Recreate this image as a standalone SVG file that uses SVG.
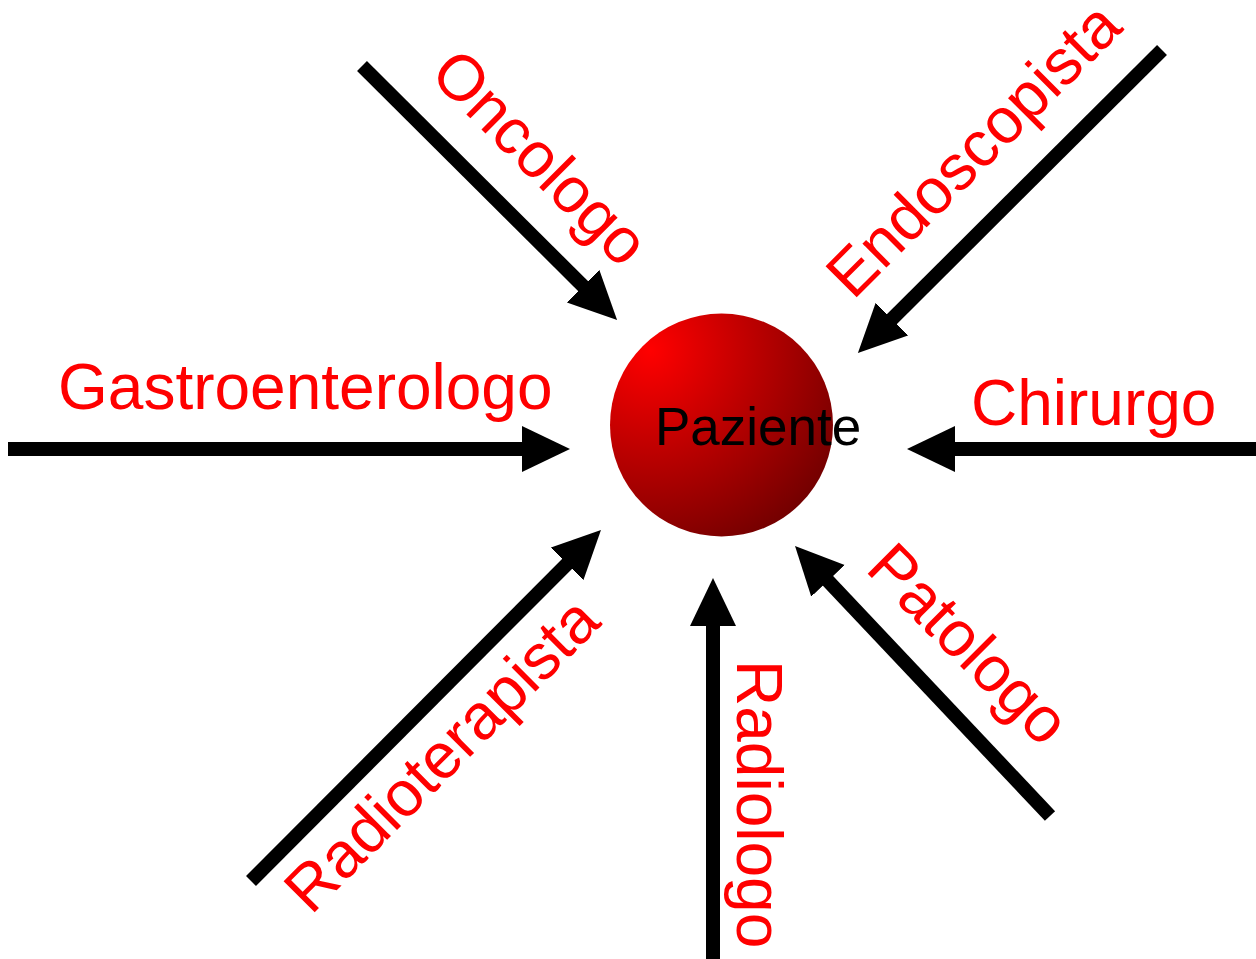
<svg xmlns="http://www.w3.org/2000/svg" width="1256" height="959" viewBox="0 0 1256 959">
  <style>
    .lbl { font-family: "Liberation Sans", Arial, sans-serif; font-size: 64px; fill: #ff0000; }
    .center-lbl { font-family: "Liberation Sans", Arial, sans-serif; font-size: 53px; fill: #000000; }
    .arrow { stroke: #000000; stroke-width: 14; fill: none; marker-end: url(#head); }
  </style>
  <defs>
    <marker id="head" markerUnits="userSpaceOnUse" markerWidth="50" markerHeight="48" refX="2" refY="23" orient="auto">
      <path d="M0,0 L48,23 L0,46 Z" fill="#000000"/>
    </marker>
    <radialGradient id="sphere" gradientUnits="userSpaceOnUse" cx="650" cy="350" r="220" fx="650" fy="350">
      <stop offset="0" stop-color="#ff0000"/>
      <stop offset="1" stop-color="#700000"/>
    </radialGradient>
  </defs>
  <rect width="1256" height="959" fill="#ffffff"/>

  <g id="connectors">
    <line class="arrow" x1="8" y1="449" x2="524" y2="449"/>
    <line class="arrow" x1="1262" y1="449" x2="953" y2="449"/>
    <line class="arrow" x1="713" y1="965" x2="713" y2="624"/>
    <line class="arrow" x1="362" y1="66" x2="584.5" y2="287.5"/>
    <line class="arrow" x1="1162" y1="50" x2="890.5" y2="320.5"/>
    <line class="arrow" x1="251" y1="881" x2="568.5" y2="562.5"/>
    <line class="arrow" x1="1050" y1="816" x2="826.6" y2="579.4"/>
  </g>

  <g id="node-paziente">
    <circle cx="721.5" cy="425" r="111.5" fill="url(#sphere)"/>
    <text class="center-lbl" x="655" y="445">Paziente</text>
  </g>

  <g id="node-gastroenterologo">
    <text class="lbl" x="58" y="409">Gastroenterologo</text>
  </g>
  <g id="node-chirurgo">
    <text class="lbl" x="971" y="425">Chirurgo</text>
  </g>
  <g id="node-radiologo">
    <text class="lbl" transform="translate(737,660) rotate(90)">Radiologo</text>
  </g>
  <g id="node-oncologo">
    <text class="lbl" transform="translate(428,76) rotate(45)">Oncologo</text>
  </g>
  <g id="node-endoscopista">
    <text class="lbl" transform="translate(853,301) rotate(-45)">Endoscopista</text>
  </g>
  <g id="node-radioterapista">
    <text class="lbl" transform="translate(311,916) rotate(-45)">Radioterapista</text>
  </g>
  <g id="node-patologo">
    <text class="lbl" transform="translate(864,570) rotate(45)">Patologo</text>
  </g>
</svg>
